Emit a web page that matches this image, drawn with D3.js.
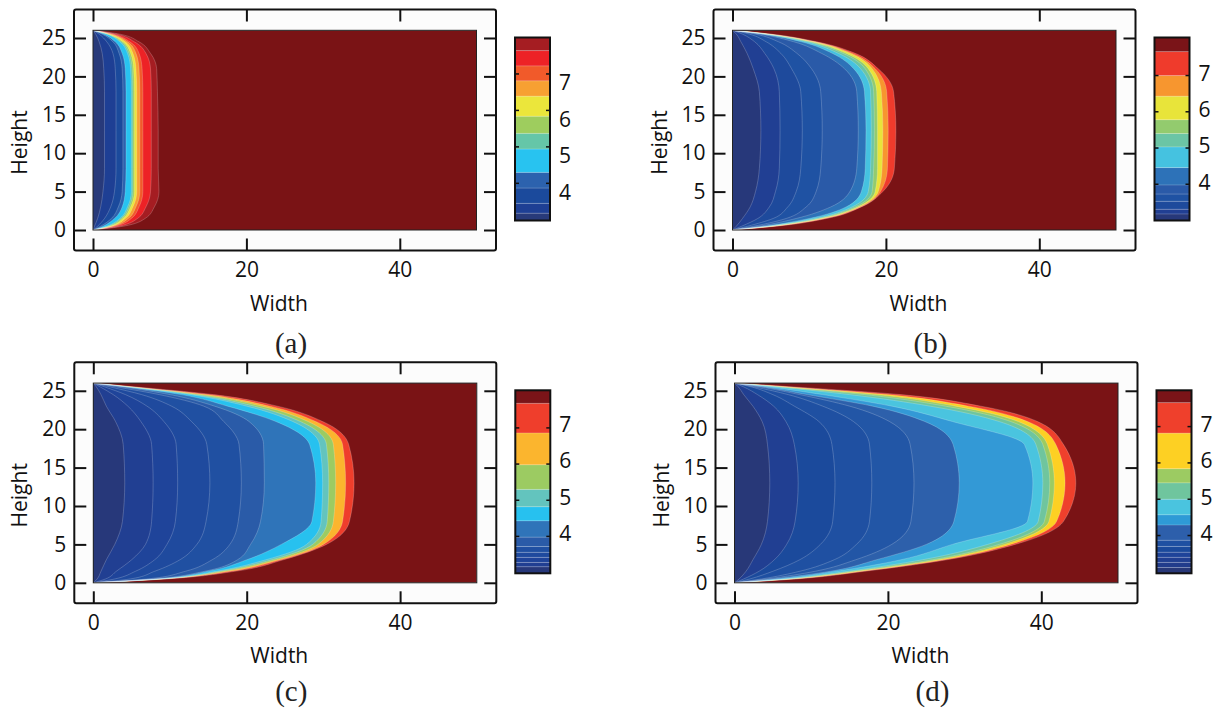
<!DOCTYPE html>
<html lang="en">
<head>
<meta charset="utf-8">
<title>Front propagation contours</title>
<script src="https://d3js.org/d3.v7.min.js"></script>
<style>
  body { margin: 0; background: #fff; }
  .tick text, .axis-label, .bar-label { font-family: "Open Sans", sans-serif; font-size: 21px; fill: #111; }
  .caption { font-family: "Liberation Serif", serif; font-size: 29px; fill: #222; }
</style>
</head>
<body>
<div id="chart"></div>
<script>

// heights (y) at which every contour front is sampled
var heights = [0, 0.5, 1.5, 3, 5, 8, 13, 18, 21, 23, 24.5, 25.5, 26];

// axis ticks
var xTicks = [0, 20, 40];
var yTicks = [0, 5, 10, 15, 20, 25];
var barTicks = [4, 5, 6, 7];

// (a) contour fronts, outer -> inner, x position at each height
var bandColorsA = ["#a51d22", "#ed2226", "#f15a2a", "#f7a032", "#ebe63b", "#9ecd5e", "#65c6a8", "#28c3f0", "#2c62ae", "#1b4a9c", "#1e3f94", "#283a7a"];
var frontsA = [
  [0, 4.0, 6.8, 8.0, 8.6, 8.5, 8.5, 8.4, 8.3, 7.5, 6.0, 3.5, 0],
  [0, 3.4, 5.8, 6.9, 7.5, 7.6, 7.6, 7.6, 7.5, 6.9, 5.4, 3.0, 0],
  [0, 2.9, 5.0, 6.0, 6.5, 6.5, 6.5, 6.5, 6.4, 6.0, 4.8, 2.6, 0],
  [0, 2.6, 4.6, 5.6, 6.1, 6.1, 6.1, 6.1, 6.0, 5.6, 4.5, 2.4, 0],
  [0, 2.4, 4.2, 5.2, 5.7, 5.7, 5.7, 5.7, 5.6, 5.2, 4.2, 2.2, 0],
  [0, 2.2, 3.9, 4.9, 5.4, 5.4, 5.4, 5.4, 5.3, 4.9, 3.9, 2.0, 0],
  [0, 2.0, 3.7, 4.7, 5.2, 5.2, 5.2, 5.2, 5.1, 4.7, 3.7, 1.9, 0],
  [0, 1.8, 3.5, 4.5, 5.0, 5.0, 5.0, 5.0, 4.9, 4.5, 3.5, 1.8, 0],
  [0, 1.3, 2.8, 3.8, 4.2, 4.3, 4.3, 4.3, 4.2, 3.8, 2.9, 1.4, 0],
  [0, 1.0, 2.4, 3.3, 3.8, 3.9, 3.9, 3.9, 3.8, 3.4, 2.6, 1.2, 0],
  [0, 0.6, 1.5, 2.3, 2.8, 3.0, 3.0, 3.0, 2.9, 2.6, 1.8, 0.8, 0],
  [0, 0.2, 0.6, 1.0, 1.3, 1.5, 1.5, 1.5, 1.4, 1.2, 0.8, 0.35, 0]
];
var barLevelsA = [2.98, 3.18, 3.45, 3.87, 4.30, 4.94, 5.37, 5.84, 6.39, 6.81, 7.22, 7.64, 8.0];
var barColorsA = ["#283a7a", "#1e3f94", "#1b4a9c", "#2c62ae", "#28c3f0", "#65c6a8", "#9ecd5e", "#ebe63b", "#f7a032", "#f15a2a", "#ed2226", "#a51d22"];

// (b)
var bandColorsB = ["#ef3b2c", "#f7962f", "#e8e43a", "#93cb6e", "#6bc5a5", "#45c2e0", "#2d72b8", "#2a5aa8", "#1f52a3", "#1e4a9c", "#213f93", "#27387a"];
var frontsB = [
  [0, 5.8, 12.3, 16.8, 19.6, 21.1, 21.3, 21.0, 19.0, 16.0, 11.0, 5.0, 0],
  [0, 5.5, 12.0, 16.7, 19.3, 20.2, 20.3, 20.1, 18.6, 15.6, 10.8, 4.9, 0],
  [0, 5.3, 11.8, 16.5, 19.0, 19.5, 19.6, 19.4, 18.2, 15.3, 10.6, 4.8, 0],
  [0, 5.1, 11.5, 16.3, 18.6, 18.9, 18.9, 18.8, 17.7, 14.8, 10.3, 4.6, 0],
  [0, 4.9, 11.2, 16.0, 18.2, 18.4, 18.5, 18.4, 17.3, 14.4, 10.0, 4.5, 0],
  [0, 4.6, 10.8, 15.6, 17.7, 18.0, 18.1, 18.0, 16.7, 13.8, 9.6, 4.3, 0],
  [0, 4.2, 10.0, 14.8, 16.8, 17.3, 17.4, 17.2, 15.8, 13.0, 9.0, 4.0, 0],
  [0, 3.5, 8.3, 12.8, 15.3, 16.2, 16.4, 16.2, 14.6, 11.6, 8.0, 3.6, 0],
  [0, 2.8, 7.0, 9.6, 10.9, 11.5, 11.7, 11.5, 10.3, 8.4, 6.0, 3.0, 0],
  [0, 2.0, 5.3, 7.2, 8.3, 8.9, 9.1, 8.9, 7.7, 6.3, 4.4, 2.2, 0],
  [0, 1.2, 3.3, 4.8, 5.6, 6.1, 6.2, 6.1, 5.4, 4.2, 2.9, 1.3, 0],
  [0, 0.5, 1.3, 2.3, 3.0, 3.5, 3.7, 3.5, 2.7, 1.9, 1.1, 0.5, 0]
];
var barLevelsB = [3.0, 3.18, 3.31, 3.53, 3.73, 3.98, 4.46, 5.03, 5.40, 5.78, 6.43, 7.0, 7.66, 8.05];
var barColorsB = ["#27387a", "#213f93", "#1e4a9c", "#1f52a3", "#2a5aa8", "#2d72b8", "#45c2e0", "#6bc5a5", "#93cb6e", "#e8e43a", "#f7962f", "#ef3b2c", "#7a1418"];

// (c)
var bandColorsC = ["#ef3e2c", "#fbb52e", "#9ccb62", "#63c4be", "#27c1ef", "#2f74b9", "#2a5ba8", "#2050a2", "#1f4a9e", "#1f449a", "#213f92", "#27387a"];
var frontsC = [
  [0, 9.5, 18.5, 24.8, 30.4, 33.4, 34.0, 33.3, 29.9, 24.0, 15.7, 5.5, 0],
  [0, 9.2, 17.8, 24.4, 30.0, 32.5, 32.9, 32.5, 29.0, 23.0, 14.8, 5.2, 0],
  [0, 9.0, 17.2, 23.9, 29.3, 31.3, 31.6, 31.3, 28.0, 22.0, 14.0, 5.0, 0],
  [0, 8.8, 16.6, 23.3, 28.6, 30.5, 30.7, 30.4, 27.0, 21.0, 13.3, 4.8, 0],
  [0, 8.6, 16.0, 22.5, 27.8, 29.7, 29.9, 29.5, 26.0, 20.0, 12.6, 4.6, 0],
  [0, 8.3, 15.0, 20.0, 24.5, 28.5, 29.0, 28.2, 23.8, 17.5, 11.5, 4.3, 0],
  [0, 7.8, 14.5, 18.8, 20.5, 21.8, 22.3, 22.2, 20.3, 15.8, 10.0, 3.8, 0],
  [0, 7.0, 12.0, 15.5, 17.8, 18.9, 19.3, 19.0, 17.0, 14.4, 8.6, 3.0, 0],
  [0, 4.8, 8.0, 11.3, 13.5, 14.7, 15.2, 14.8, 12.8, 10.2, 6.3, 2.2, 0],
  [0, 2.8, 5.5, 8.0, 9.6, 10.7, 11.0, 10.8, 9.2, 7.0, 4.2, 1.5, 0],
  [0, 1.6, 3.0, 5.0, 6.8, 7.6, 7.8, 7.6, 6.2, 4.5, 2.6, 0.9, 0],
  [0, 0.5, 1.0, 1.7, 2.8, 3.8, 4.1, 3.9, 2.9, 1.7, 1.0, 0.4, 0]
];
var barLevelsC = [2.98, 3.16, 3.28, 3.42, 3.56, 3.72, 3.98, 4.43, 4.82, 5.30, 5.98, 6.86, 7.68, 8.04];
var barColorsC = ["#27387a", "#213f92", "#1f449a", "#1f4a9e", "#2050a2", "#2a5ba8", "#2f74b9", "#27c1ef", "#63c4be", "#9ccb62", "#fbb52e", "#ef3e2c", "#7a1418"];

// (d)
var bandColorsD = ["#ef402c", "#fdd023", "#9ccb62", "#6fc59e", "#4ac4df", "#3399d6", "#2d60ab", "#2256a6", "#1f50a2", "#1b4a9c", "#213f92", "#283878"];
var frontsD = [
  [0, 8.0, 17.0, 27.7, 36.6, 42.9, 44.5, 42.9, 39.5, 32.1, 21.7, 7.7, 0],
  [0, 7.7, 16.6, 27.2, 36.0, 42.0, 43.1, 41.9, 38.2, 30.5, 20.0, 7.1, 0],
  [0, 7.3, 16.0, 26.5, 35.2, 41.0, 41.7, 40.8, 37.0, 28.8, 18.5, 6.5, 0],
  [0, 7.0, 15.5, 25.8, 34.5, 40.4, 41.1, 40.2, 36.0, 27.5, 17.0, 6.0, 0],
  [0, 6.6, 14.8, 24.5, 33.0, 39.6, 40.2, 39.3, 34.5, 25.5, 15.0, 5.5, 0],
  [0, 6.0, 13.3, 21.7, 28.4, 38.2, 38.9, 37.8, 28.4, 20.5, 11.5, 4.5, 0],
  [0, 5.0, 12.5, 18.5, 25.0, 28.6, 29.3, 28.5, 24.8, 18.0, 9.5, 3.8, 0],
  [0, 4.2, 10.5, 15.8, 20.5, 23.0, 23.4, 22.9, 20.2, 15.0, 8.5, 3.3, 0],
  [0, 3.5, 8.5, 13.0, 15.9, 17.6, 17.9, 17.6, 15.5, 11.5, 7.0, 2.6, 0],
  [0, 2.0, 5.0, 8.5, 11.2, 12.8, 13.1, 12.7, 11.0, 7.8, 5.0, 2.2, 0],
  [0, 1.2, 3.2, 5.2, 6.8, 7.9, 8.3, 7.8, 6.7, 5.1, 3.0, 1.2, 0],
  [0, 0.6, 1.5, 2.4, 3.5, 4.3, 4.6, 4.3, 3.6, 2.4, 1.2, 0.5, 0]
];
var barLevelsD = [2.96, 3.12, 3.26, 3.40, 3.54, 3.70, 3.87, 4.29, 4.57, 5.0, 5.45, 5.84, 6.82, 7.66, 8.0];
var barColorsD = ["#283878", "#223c8c", "#213f92", "#1f449a", "#1b4a9c", "#1f50a2", "#2d5fab", "#2e9ad6", "#4ac4df", "#6fc59e", "#9ccb62", "#fdd023", "#ef402c", "#7a1418"];

var background = "#7a1315"; // region the front has not reached

var panels = [
  {left: 74, top: 9.5, fronts: frontsA, colors: bandColorsA, levels: barLevelsA, barColors: barColorsA, caption: "(a)", capY: 353, labelShift: 9},
  {left: 713.5, top: 9.5, fronts: frontsB, colors: bandColorsB, levels: barLevelsB, barColors: barColorsB, caption: "(b)", capY: 353, labelShift: -2},
  {left: 74.3, top: 362.3, fronts: frontsC, colors: bandColorsC, levels: barLevelsC, barColors: barColorsC, caption: "(c)", capY: 701, labelShift: -3},
  {left: 715.5, top: 362.3, fronts: frontsD, colors: bandColorsD, levels: barLevelsD, barColors: barColorsD, caption: "(d)", capY: 701, labelShift: -2}
];

var frameW = 422, frameH = 241;

var svg = d3.select("#chart").append("svg")
    .attr("width", 1220)
    .attr("height", 711);

panels.forEach(function(p, i) {
  var g = svg.append("g");

  var x = d3.scaleLinear().domain([0, 50]).range([p.left + 19, p.left + 19 + 383.5]);
  var y = d3.scaleLinear().domain([0, 26]).range([p.top + 220.5, p.top + 220.5 - 199.7]);

  // axes box
  g.append("rect")
      .attr("x", p.left).attr("y", p.top)
      .attr("width", frameW).attr("height", frameH)
      .attr("rx", 2)
      .attr("fill", "#fcfcfc");

  var clipId = "clip" + i;
  g.append("clipPath").attr("id", clipId)
    .append("rect")
      .attr("x", x(0)).attr("y", y(26))
      .attr("width", x(50) - x(0)).attr("height", y(0) - y(26));

  var plot = g.append("g").attr("clip-path", "url(#" + clipId + ")");

  plot.append("rect")
      .attr("x", x(0)).attr("y", y(26))
      .attr("width", x(50) - x(0)).attr("height", y(0) - y(26))
      .attr("fill", background);

  var line = d3.line()
      .x(function(d) { return x(d[0]); })
      .y(function(d) { return y(d[1]); })
      .curve(d3.curveMonotoneY);

  // filled bands, outermost first so inner ones paint over
  p.fronts.forEach(function(f, j) {
    var pts = f.map(function(v, k) { return [v, heights[k]]; });
    plot.append("path")
        .attr("d", line(pts) + "Z")
        .attr("fill", p.colors[j]);
  });

  // thin contour lines
  p.fronts.forEach(function(f) {
    var pts = f.map(function(v, k) { return [v, heights[k]]; });
    plot.append("path")
        .attr("d", line(pts))
        .attr("fill", "none")
        .attr("stroke", "rgba(255,255,255,0.3)")
        .attr("stroke-width", 0.7);
  });

  g.append("rect")
      .attr("x", x(0)).attr("y", y(26))
      .attr("width", x(50) - x(0)).attr("height", y(0) - y(26))
      .attr("fill", "none")
      .attr("stroke", "#222")
      .attr("stroke-width", 1);

  // ticks on all four sides, pointing in
  var bottom = g.append("g")
      .attr("transform", "translate(0," + (p.top + frameH) + ")")
      .call(d3.axisBottom(x).tickValues(xTicks).tickSize(-12).tickPadding(12));
  var topAx = g.append("g")
      .attr("transform", "translate(0," + p.top + ")")
      .call(d3.axisTop(x).tickValues(xTicks).tickSize(-12).tickFormat(""));
  var leftAx = g.append("g")
      .attr("transform", "translate(" + p.left + ",0)")
      .call(d3.axisLeft(y).tickValues(yTicks).tickSize(-12).tickPadding(8));
  var rightAx = g.append("g")
      .attr("transform", "translate(" + (p.left + frameW) + ",0)")
      .call(d3.axisRight(y).tickValues(yTicks).tickSize(-12).tickFormat(""));

  [bottom, topAx, leftAx, rightAx].forEach(function(a) {
    a.select(".domain").remove();
    a.selectAll("line").attr("stroke", "#111").attr("stroke-width", 2);
  });

  g.append("rect")
      .attr("x", p.left).attr("y", p.top)
      .attr("width", frameW).attr("height", frameH)
      .attr("rx", 2)
      .attr("fill", "none")
      .attr("stroke", "#111")
      .attr("stroke-width", 2);

  // colour bar
  var bx = p.left + 441, bw = 35;
  var cb = d3.scaleLinear()
      .domain([p.levels[0], p.levels[p.levels.length - 1]])
      .range([p.top + 211, p.top + 28]);

  p.barColors.forEach(function(c, k) {
    g.append("rect")
        .attr("x", bx).attr("y", cb(p.levels[k + 1]))
        .attr("width", bw).attr("height", cb(p.levels[k]) - cb(p.levels[k + 1]))
        .attr("fill", c);
  });
  p.levels.slice(1, -1).forEach(function(v) {
    g.append("line")
        .attr("x1", bx).attr("x2", bx + bw)
        .attr("y1", cb(v)).attr("y2", cb(v))
        .attr("stroke", "rgba(255,255,255,0.3)")
        .attr("stroke-width", 0.7);
  });
  g.append("rect")
      .attr("x", bx).attr("y", cb.range()[1])
      .attr("width", bw).attr("height", cb.range()[0] - cb.range()[1])
      .attr("fill", "none")
      .attr("stroke", "#111")
      .attr("stroke-width", 2);

  barTicks.forEach(function(t) {
    g.append("line")
        .attr("x1", bx).attr("x2", bx + 4)
        .attr("y1", cb(t)).attr("y2", cb(t))
        .attr("stroke", "#111").attr("stroke-width", 1.5);
    g.append("line")
        .attr("x1", bx + bw - 4).attr("x2", bx + bw)
        .attr("y1", cb(t)).attr("y2", cb(t))
        .attr("stroke", "#111").attr("stroke-width", 1.5);
    g.append("text")
        .attr("class", "bar-label")
        .attr("x", bx + bw + 9)
        .attr("y", cb(t) + p.labelShift)
        .attr("dy", "0.35em")
        .text(t);
  });

  // axis titles and caption
  g.append("text")
      .attr("class", "axis-label")
      .attr("x", p.left + 205)
      .attr("y", p.top + 301)
      .attr("text-anchor", "middle")
      .text("Width");

  g.append("text")
      .attr("class", "axis-label")
      .attr("transform", "translate(" + (p.left - 47) + "," + (p.top + 133) + ") rotate(-90)")
      .attr("text-anchor", "middle")
      .text("Height");

  g.append("text")
      .attr("class", "caption")
      .attr("x", p.left + 217)
      .attr("y", p.capY)
      .attr("text-anchor", "middle")
      .text(p.caption);
});

</script>
</body>
</html>
